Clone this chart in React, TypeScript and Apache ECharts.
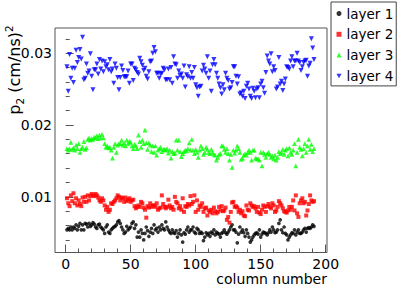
import React, { useEffect, useRef } from "react";
import * as echarts from "echarts";

const seriesNames = ["layer 1", "layer 2", "layer 3", "layer 4"];
const seriesColors = ["#000000", "#ff0000", "#00ff00", "#0000ff"];

const xMajorTicks = [0, 50, 100, 150, 200];
const xMinorTicks = [10, 20, 30, 40, 60, 70, 80, 90, 110, 120, 130, 140, 160, 170, 180, 190];
const yMajorTicks = [0.01, 0.02, 0.03];
const yMinorTicks = [0.004, 0.006, 0.008, 0.012, 0.014, 0.016, 0.018, 0.022, 0.024, 0.026, 0.028, 0.032];

// layer 1 (black), columns 1..191
const layer1 = [
  0.0054, 0.0056, 0.0054, 0.0058, 0.0054, 0.0058, 0.0056, 0.0061, 0.0054, 0.0059,
  0.0063, 0.0054, 0.0061, 0.0054, 0.0063, 0.0062, 0.0058, 0.0063, 0.0059, 0.0061,
  0.0064, 0.0062, 0.0058, 0.0056, 0.0061, 0.0062, 0.0058, 0.0056, 0.0054, 0.0049,
  0.0058, 0.0061, 0.0051, 0.0049, 0.0054, 0.0056, 0.0058, 0.0059, 0.0061, 0.0065,
  0.0067, 0.0063, 0.0058, 0.0054, 0.0049, 0.0051, 0.0059, 0.0054, 0.0056, 0.0058,
  0.0063, 0.0065, 0.0056, 0.0061, 0.0044, 0.0051, 0.0044, 0.0054, 0.0049, 0.0040,
  0.0049, 0.0058, 0.0053, 0.0045, 0.0051, 0.0056, 0.0049, 0.0061, 0.0054, 0.0056,
  0.0051, 0.0058, 0.0054, 0.0061, 0.0056, 0.0054, 0.0065, 0.0058, 0.0054, 0.0051,
  0.0049, 0.0054, 0.0050, 0.0049, 0.0053, 0.0044, 0.0049, 0.0054, 0.0047, 0.0037,
  0.0050, 0.0048, 0.0054, 0.0058, 0.0051, 0.0054,
  0.0054, 0.0058, 0.0051, 0.0049, 0.0056, 0.0054, 0.0049,
  0.0051, 0.0049, 0.0039, 0.0044, 0.0050, 0.0047, 0.0049,
  0.0045, 0.0051, 0.0049, 0.0054, 0.0047, 0.0051, 0.0049,
  0.0048, 0.0044, 0.0049, 0.0051, 0.0054, 0.0050, 0.0048,
  0.0051, 0.0054, 0.0058, 0.0061, 0.0054, 0.0054, 0.0051,
  0.0036, 0.0048, 0.0058, 0.0051, 0.0054, 0.0050, 0.0045,
  0.0054, 0.0049, 0.0044, 0.0037, 0.0040, 0.0044, 0.0047,
  0.0049, 0.0050, 0.0048, 0.0054, 0.0044, 0.0048, 0.0051,
  0.0050, 0.0049, 0.0047, 0.0050, 0.0054, 0.0051, 0.0058,
  0.0054, 0.0050, 0.0051, 0.0054, 0.0063, 0.0068, 0.0054,
  0.0050, 0.0058, 0.0049, 0.0047, 0.0040, 0.0044, 0.0047,
  0.0050, 0.0049, 0.0054, 0.0047, 0.0051, 0.0054, 0.0049,
  0.0049, 0.0051, 0.0054, 0.0056, 0.0051, 0.0056, 0.0057,
  0.0056, 0.0058, 0.0061, 0.0059,
];

// layer 2 (red)
const layer2 = [
  0.0098, 0.0091, 0.0087, 0.0102, 0.0094, 0.0105, 0.0091, 0.0098, 0.0088,
  0.0095, 0.0090, 0.0087, 0.0099, 0.0093, 0.0100, 0.0093, 0.0102,
  0.0095, 0.0101, 0.0104, 0.0102, 0.0101, 0.0104, 0.0102, 0.0099, 0.0095,
  0.0093, 0.0098, 0.0095, 0.0088, 0.0082, 0.0086, 0.0079, 0.0082,
  0.0091, 0.0090, 0.0093, 0.0095, 0.0098, 0.0102, 0.0100, 0.0095, 0.0099,
  0.0098, 0.0093, 0.0099, 0.0094, 0.0096, 0.0098, 0.0093, 0.0095,
  0.0096, 0.0087, 0.0084, 0.0086, 0.0088, 0.0086, 0.0093, 0.0091, 0.0085,
  0.0082, 0.0071, 0.0087, 0.0085, 0.0091, 0.0086, 0.0088, 0.0088,
  0.0086, 0.0091, 0.0082, 0.0084, 0.0085, 0.0102, 0.0090, 0.0086, 0.0084,
  0.0086, 0.0096, 0.0088, 0.0084, 0.0086, 0.0082, 0.0100, 0.0093,
  0.0091, 0.0084, 0.0087, 0.0082, 0.0098, 0.0079, 0.0087, 0.0086, 0.0090,
  0.0088, 0.0101,
  0.0090, 0.0093, 0.0102, 0.0079, 0.0095, 0.0082, 0.0088, 0.0086, 0.0091, 0.0079,
  0.0084, 0.0085, 0.0074, 0.0081, 0.0079, 0.0082, 0.0077, 0.0085, 0.0080, 0.0077,
  0.0079, 0.0086, 0.0081, 0.0087, 0.0080, 0.0081, 0.0085, 0.0068, 0.0072, 0.0064,
  0.0079, 0.0092, 0.0093, 0.0086, 0.0087, 0.0085, 0.0079, 0.0082, 0.0077, 0.0080,
  0.0074, 0.0073, 0.0088, 0.0082, 0.0081, 0.0091, 0.0088, 0.0086, 0.0087, 0.0084, 0.0079,
  0.0086, 0.0078, 0.0076, 0.0082, 0.0088, 0.0086, 0.0079, 0.0087, 0.0090, 0.0086,
  0.0084, 0.0091, 0.0088, 0.0079, 0.0081, 0.0086, 0.0094, 0.0091, 0.0088, 0.0084,
  0.0080, 0.0079, 0.0078, 0.0081, 0.0086, 0.0082, 0.0086, 0.0095, 0.0081, 0.0102, 0.0077,
  0.0072, 0.0091, 0.0095, 0.0098, 0.0091, 0.0093, 0.0074, 0.0081, 0.0090, 0.0102,
  0.0095, 0.0093, 0.0094,
];

// layer 3 (green)
const layer3 = [
  0.0167, 0.0165, 0.0167, 0.0176, 0.0166, 0.0168, 0.0165, 0.0172, 0.0167, 0.0174,
  0.0162, 0.0167, 0.0169, 0.0177, 0.0166, 0.0168, 0.0180, 0.0182, 0.0179, 0.0181,
  0.0180, 0.0183, 0.0182, 0.0185, 0.0181, 0.0186, 0.0182, 0.0187, 0.0182, 0.0174,
  0.0169, 0.0171, 0.0168, 0.0169, 0.0165, 0.0154, 0.0169, 0.0174, 0.0162, 0.0172,
  0.0174, 0.0174, 0.0179, 0.0172, 0.0175, 0.0171, 0.0179, 0.0174, 0.0177, 0.0176,
  0.0171, 0.0167, 0.0173, 0.0171, 0.0167, 0.0186, 0.0177, 0.0169, 0.0179, 0.0174,
  0.0193, 0.0175, 0.0166, 0.0175, 0.0172, 0.0163, 0.0171, 0.0162, 0.0171, 0.0158,
  0.0165, 0.0167, 0.0169, 0.0163, 0.0166, 0.0166, 0.0165, 0.0167, 0.0161, 0.0165,
  0.0154, 0.0163, 0.0160, 0.0161, 0.0179, 0.0165, 0.0179, 0.0163, 0.0156, 0.0160,
  0.0163, 0.0165, 0.0164, 0.0167, 0.0175, 0.0165,
  0.0180, 0.0165, 0.0160, 0.0166, 0.0162, 0.0155, 0.0165, 0.0171, 0.0167, 0.0159,
  0.0162, 0.0169, 0.0166, 0.0162, 0.0160, 0.0166, 0.0162, 0.0159, 0.0158, 0.0151,
  0.0155, 0.0159, 0.0160, 0.0171, 0.0171, 0.0166, 0.0162, 0.0167, 0.0160, 0.0151,
  0.0159, 0.0141, 0.0165, 0.0161, 0.0165, 0.0171, 0.0167, 0.0162, 0.0152, 0.0154,
  0.0158, 0.0160, 0.0158, 0.0162, 0.0165, 0.0162, 0.0151, 0.0165, 0.0165, 0.0154,
  0.0153, 0.0153, 0.0151, 0.0162, 0.0143, 0.0162, 0.0159, 0.0155, 0.0160, 0.0162,
  0.0159, 0.0155, 0.0157, 0.0153, 0.0158, 0.0151, 0.0155, 0.0163, 0.0160, 0.0162,
  0.0166, 0.0159, 0.0165, 0.0167, 0.0157, 0.0168, 0.0162, 0.0159, 0.0165, 0.0174,
  0.0143, 0.0162, 0.0180, 0.0169, 0.0166, 0.0157, 0.0167, 0.0174, 0.0162, 0.0171,
  0.0180, 0.0166, 0.0173, 0.0163, 0.0167,
];

// layer 4 (blue)
const layer4 = [
  0.0281, 0.0247, 0.0298, 0.0265, 0.0279, 0.0259, 0.0279, 0.0304, 0.0287, 0.0294,
  0.0305, 0.0292, 0.0322, 0.0263, 0.0265, 0.0285, 0.0272, 0.0275, 0.0299, 0.0268,
  0.0249, 0.0277, 0.0277, 0.0285, 0.0271, 0.0291, 0.0278, 0.0289, 0.0274, 0.0288,
  0.0281, 0.0284, 0.0277, 0.0291, 0.0274, 0.0278, 0.0258, 0.0285, 0.0279, 0.0266,
  0.0249, 0.0266, 0.0282, 0.0276, 0.0267, 0.0267, 0.0267, 0.0275, 0.0258, 0.0285,
  0.0285, 0.0262, 0.0279, 0.0277, 0.0273, 0.0271, 0.0293, 0.0288, 0.0283, 0.0276,
  0.0279, 0.0268, 0.0264, 0.0274, 0.0288, 0.0289, 0.0300, 0.0308, 0.0302, 0.0272,
  0.0272, 0.0265, 0.0271, 0.0272, 0.0279, 0.0277, 0.0263, 0.0263, 0.0278, 0.0263,
  0.0280, 0.0258, 0.0295, 0.0285, 0.0284, 0.0265, 0.0275, 0.0269, 0.0271, 0.0265,
  0.0282, 0.0253, 0.0270, 0.0267, 0.0281, 0.0265,
  0.0273, 0.0265, 0.0280, 0.0256, 0.0252, 0.0240, 0.0253, 0.0254, 0.0275, 0.0283,
  0.0278, 0.0272, 0.0295, 0.0265, 0.0275, 0.0247, 0.0284, 0.0291, 0.0284, 0.0272,
  0.0265, 0.0257, 0.0252, 0.0243, 0.0256, 0.0249, 0.0272, 0.0265, 0.0262, 0.0250,
  0.0252, 0.0259, 0.0281, 0.0281, 0.0268, 0.0257, 0.0267, 0.0243, 0.0245, 0.0240,
  0.0247, 0.0237, 0.0254, 0.0258, 0.0250, 0.0240, 0.0237, 0.0251, 0.0247, 0.0238,
  0.0250, 0.0252, 0.0238, 0.0257, 0.0261, 0.0252, 0.0244, 0.0273, 0.0296, 0.0289,
  0.0285, 0.0299, 0.0274, 0.0281, 0.0276, 0.0250, 0.0253, 0.0294, 0.0257, 0.0261,
  0.0248, 0.0257, 0.0264, 0.0281, 0.0280, 0.0278, 0.0289, 0.0295, 0.0281, 0.0289,
  0.0289, 0.0300, 0.0289, 0.0287, 0.0276, 0.0281, 0.0287, 0.0289, 0.0290, 0.0268,
  0.0282, 0.0286, 0.0320, 0.0307, 0.0291,
];

const layers = [layer1, layer2, layer3, layer4];
const symbols = ["circle", "rect", "triangle", "triangle"];
const symbolSizes = [3.7, 4, 4.8, 5];
const symbolRotates = [0, 0, 0, 180];
const legendIcons = ["circle", "rect", "triangle", "path://M0,0L10,0L5,9Z"];

const FONT = "DejaVu Sans";
const TICK_COLOR = "#555";

export default function App() {
  const ref = useRef<HTMLDivElement>(null);

  useEffect(() => {
    if (!ref.current) return;
    const chart = echarts.init(ref.current, null, { renderer: "svg" });

    const xBase = {
      type: "value",
      min: -8.2,
      max: 201,
      position: "bottom",
      axisLine: { show: false },
      splitLine: { show: false },
    };
    const yBase = {
      type: "value",
      min: 0.00225,
      max: 0.0335,
      position: "left",
      axisLine: { show: false },
      splitLine: { show: false },
    };

    chart.setOption({
      animation: false,
      backgroundColor: "#ffffff",
      grid: {
        left: 55,
        top: 28,
        right: 72,
        bottom: 35.5,
        show: true,
        borderColor: TICK_COLOR,
        borderWidth: 1,
        backgroundColor: "transparent",
      },
      xAxis: [
        {
          ...xBase,
          axisTick: { show: true, inside: true, length: 8, customValues: xMajorTicks, lineStyle: { color: TICK_COLOR } },
          axisLabel: { customValues: xMajorTicks, margin: 4, fontSize: 14, fontFamily: FONT, color: "#000" },
        },
        {
          ...xBase,
          axisTick: { show: true, inside: true, length: 4, customValues: xMinorTicks, lineStyle: { color: TICK_COLOR } },
          axisLabel: { show: false },
        },
      ],
      yAxis: [
        {
          ...yBase,
          axisTick: { show: true, inside: true, length: 8, customValues: yMajorTicks, lineStyle: { color: TICK_COLOR } },
          axisLabel: {
            customValues: yMajorTicks,
            margin: 3,
            fontSize: 14,
            fontFamily: FONT,
            color: "#000",
            formatter: (v: number) => v.toFixed(2),
          },
        },
        {
          ...yBase,
          axisTick: { show: true, inside: true, length: 4, customValues: yMinorTicks, lineStyle: { color: TICK_COLOR } },
          axisLabel: { show: false },
        },
      ],
      legend: {
        orient: "vertical",
        left: 331,
        top: 2,
        padding: [4.5, 3, 3, 5.5],
        itemGap: 6.8,
        itemWidth: 5,
        itemHeight: 5,
        backgroundColor: "#ffffff",
        borderColor: "#444",
        borderWidth: 1,
        selectedMode: false,
        textStyle: { fontSize: 13.5, fontFamily: FONT, color: "#000", lineHeight: 14 },
        data: seriesNames.map((n, i) => ({ name: n, icon: legendIcons[i] })),
      },
      graphic: [
        {
          type: "text",
          x: 14,
          y: 70,
          rotation: Math.PI / 2,
          style: {
            text: "{m|p}{s|2}{m| (cm/ns)}{u|2}",
            align: "center",
            verticalAlign: "middle",
            fill: "#000",
            rich: {
              m: { fontSize: 16, fontFamily: FONT, lineHeight: 22, fill: "#000" },
              s: { fontSize: 10.5, fontFamily: FONT, lineHeight: 10, verticalAlign: "bottom", fill: "#000" },
              u: { fontSize: 10.5, fontFamily: FONT, lineHeight: 8, verticalAlign: "top", fill: "#000" },
            },
          },
        },
        {
          type: "text",
          x: 327,
          y: 279,
          style: {
            text: "column number",
            align: "right",
            verticalAlign: "middle",
            fontSize: 14,
            fontFamily: FONT,
            fill: "#000",
          },
        },
      ],
      series: layers.map((vals, k) => ({
        name: seriesNames[k],
        type: "scatter",
        xAxisIndex: 0,
        yAxisIndex: 0,
        symbol: symbols[k],
        symbolSize: symbolSizes[k],
        symbolRotate: symbolRotates[k],
        itemStyle: { color: seriesColors[k] },
        silent: true,
        data: vals.map((v, i) => [i + 1, v]),
      })),
    });

    return () => chart.dispose();
  }, []);

  return <div ref={ref} style={{ position: "fixed", left: 0, top: 0, width: 399, height: 288 }} />;
}
